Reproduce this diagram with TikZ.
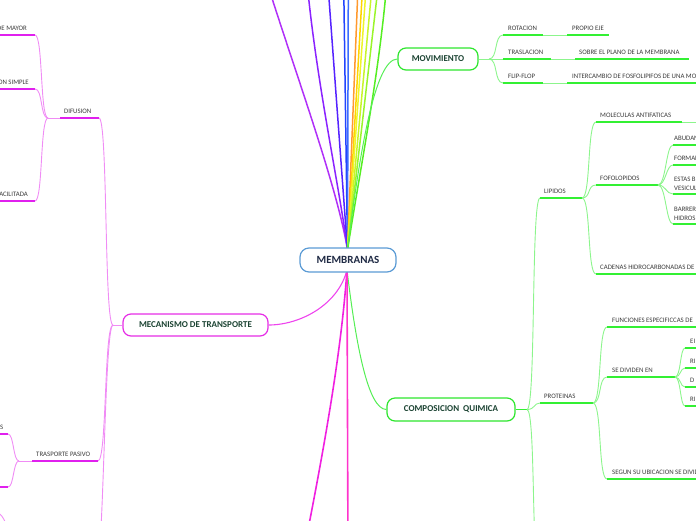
\documentclass[tikz,border=0pt]{standalone}
\usepackage{fontspec}
\setmainfont{Carlito}
\definecolor{gBorder}{HTML}{2EE62E}
\definecolor{gUnder}{HTML}{33F033}
\definecolor{gConn}{HTML}{8CF58C}
\definecolor{gMain}{HTML}{55EE55}
\definecolor{mBorder}{HTML}{E62EE6}
\definecolor{mUnder}{HTML}{E020EE}
\definecolor{mConn}{HTML}{F08CF5}
\definecolor{mMain}{HTML}{EE44EE}
\definecolor{mRayA}{HTML}{F020E0}
\definecolor{mRayB}{HTML}{FF33CC}
\definecolor{nodeText}{HTML}{1B4332}
\definecolor{memText}{HTML}{1F2A44}
\definecolor{memBorder}{HTML}{5B9BD5}
\definecolor{lblgray}{HTML}{3A3A3A}
\definecolor{rA}{HTML}{B030F8}
\definecolor{rB}{HTML}{8A22FF}
\definecolor{rC}{HTML}{5522FF}
\definecolor{rD}{HTML}{2244FF}
\definecolor{rE}{HTML}{3A6CFF}
\definecolor{rF}{HTML}{FF9A2E}
\definecolor{rG}{HTML}{FFD400}
\definecolor{rH}{HTML}{EEF52A}
\definecolor{rI}{HTML}{C8F52A}
\definecolor{rJ}{HTML}{9AF52A}
\definecolor{rK}{HTML}{55EE22}
\newcommand{\lblf}{\fontsize{6.8}{8}\selectfont}
\newcommand{\boxf}{\bfseries\fontsize{9}{10}\selectfont}
\begin{document}
\begin{tikzpicture}[x=1pt,y=-1pt,
  lbl/.style={inner sep=0pt, anchor=base west, text=lblgray, font=\lblf},
  lble/.style={lbl, anchor=base east},
  topicbox/.style={draw, fill=white, rounded corners=8pt, line width=1.2pt, inner sep=0pt, minimum height=22pt, text=nodeText, font=\boxf},
  centerbox/.style={draw=memBorder, fill=white, rounded corners=9pt, line width=1.2pt, inner sep=0pt, minimum width=96pt, minimum height=24pt, text=memText, font=\bfseries\fontsize{11}{12}\selectfont},
  gunder/.style={draw=gUnder, line width=1.8pt},
  gconn/.style={draw=gConn, line width=0.9pt},
  munder/.style={draw=mUnder, line width=1.8pt},
  mconn/.style={draw=mConn, line width=0.9pt},
  ray/.style={line width=1.5pt}
]
\path[use as bounding box] (0,0) rectangle (696,520);
\clip (0,0) rectangle (696,520);

% ---------- coordinates of the centre ----------
\coordinate (ctop) at (347.5,250);
\coordinate (cbot) at (347,270);

% ---------- rays to the top ----------
\coordinate (t1) at (270,-8);
\coordinate (t2) at (308,-8);
\coordinate (t3) at (328.5,-8);
\coordinate (t4) at (343.8,-8);
\coordinate (t5) at (348.3,-8);
\coordinate (t6) at (357.8,-8);
\coordinate (t7) at (362.3,-8);
\coordinate (t8) at (365.8,-8);
\coordinate (t9) at (371.5,-8);
\coordinate (t10) at (377.5,-8);
\coordinate (t11) at (386,-8);
\draw[ray, draw=rA] (ctop) .. controls (338,190) and (298,80) .. (t1);
\draw[ray, draw=rB] (ctop) .. controls (340,190) and (318,90) .. (t2);
\draw[ray, draw=rC] (ctop) -- (t3);
\draw[ray, draw=rD] (ctop) -- (t4);
\draw[ray, draw=rE] (ctop) -- (t5);
\draw[ray, draw=rF] (ctop) -- (t6);
\draw[ray, draw=rG] (ctop) -- (t7);
\draw[ray, draw=rH] (ctop) -- (t8);
\draw[ray, draw=rI] (ctop) -- (t9);
\draw[ray, draw=rJ] (ctop) -- (t10);
\draw[ray, draw=rK] (ctop) .. controls (360,170) and (378,80) .. (t11);

% ---------- main topic nodes ----------
\node[topicbox, draw=gBorder, minimum width=80pt] (mov) at (438,59) {MOVIMIENTO};
\node[topicbox, draw=gBorder, minimum width=128pt, minimum height=23pt] (comp) at (451,409.5) {COMPOSICION\ \ QUIMICA};
\node[topicbox, draw=mBorder, minimum width=145pt] (mec) at (195.5,325) {MECANISMO DE TRANSPORTE};

% ---------- centre to topics ----------
\draw[draw=gMain, line width=1pt] (ctop) .. controls (360,150) and (375,59) .. (mov.west);
\draw[draw=gMain, line width=1pt] (cbot) .. controls (356,345) and (368,409.5) .. (comp.west);
\draw[draw=mMain, line width=1.1pt] (cbot) .. controls (338,305) and (300,325) .. (mec.east);
\coordinate (b1) at (302,560);
\coordinate (b2) at (348,560);
\draw[ray, draw=mRayA, line width=1.6pt] (cbot) .. controls (342,340) and (330,420) .. (b1);
\draw[ray, draw=mRayB, line width=1.6pt] (cbot) -- (b2);

\node[centerbox] (mem) at (348,260) {MEMBRANAS};

% ================= MOVIMIENTO =================
\coordinate (movb) at (489,59);
\draw[gconn] (mov.east) -- (movb);
\coordinate (rot1) at (503,35);   \coordinate (rot2) at (543,35);
\coordinate (tra1) at (503,59);   \coordinate (tra2) at (551,59);
\coordinate (fli1) at (503,83);   \coordinate (fli2) at (543,83);
\coordinate (pro1) at (567,35);   \coordinate (pro2) at (609,35);
\coordinate (sob1) at (575,59);   \coordinate (sob2) at (689,59);
\coordinate (int1) at (567,83);   \coordinate (int2) at (705,83);
\draw[gconn] (movb) .. controls +(9,0) and +(-9,0) .. (rot1);
\draw[gconn] (movb) -- (tra1);
\draw[gconn] (movb) .. controls +(9,0) and +(-9,0) .. (fli1);
\draw[gunder] (rot1) -- (rot2);
\draw[gunder] (tra1) -- (tra2);
\draw[gunder] (fli1) -- (fli2);
\draw[gconn] (rot2) -- (pro1);
\draw[gconn] (tra2) -- (sob1);
\draw[gconn] (fli2) -- (int1);
\draw[gunder] (pro1) -- (pro2);
\draw[gunder] (sob1) -- (sob2);
\draw[gunder] (int1) -- (int2);
\node[lbl] (lrot) at (508,30) {ROTACION};
\node[lbl] (ltra) at (508,54) {TRASLACION};
\node[lbl] (lfli) at (508,78) {FLIP-FLOP};
\node[lbl] (lpro) at (572,30) {PROPIO EJE};
\node[lbl] (lsob) at (579,54) {SOBRE EL PLANO DE LA MEMBRANA};
\node[lbl] (lint) at (572,78) {INTERCAMBIO DE FOSFOLIPIFOS DE UNA MONOCAPA};

% ================= COMPOSICION QUIMICA =================
\coordinate (compb) at (527,409.5);
\draw[gunder] (comp.east) -- (compb);
\coordinate (lip1) at (540,198);  \coordinate (lip2) at (582,198);
\coordinate (prt1) at (540,403);  \coordinate (prt2) at (593,403);
\coordinate (compd) at (540,580);
\draw[gconn] (compb) .. controls +(9,0) and +(-9,0) .. (lip1);
\draw[gconn] (compb) .. controls +(8,0) and +(-6,0) .. (prt1);
\draw[gconn] (compb) .. controls +(9,0) and +(-9,0) .. (compd);
\draw[gunder] (lip1) -- (lip2);
\draw[gunder] (prt1) -- (prt2);
\node[lbl] (llip) at (544,193) {LIPIDOS};
\node[lbl] (lprt) at (544,398) {PROTEINAS};

% LIPIDOS children
\coordinate (mol1) at (596,122);  \coordinate (mol2) at (682,122); \coordinate (mol3) at (705,122);
\coordinate (fof1) at (596,185);  \coordinate (fof2) at (658,185);
\coordinate (cad1) at (596,274);  \coordinate (cad2) at (705,274);
\draw[gconn] (lip2) .. controls +(9,0) and +(-9,0) .. (mol1);
\draw[gconn] (lip2) .. controls +(9,0) and +(-9,0) .. (fof1);
\draw[gconn] (lip2) .. controls +(9,0) and +(-9,0) .. (cad1);
\draw[gunder] (mol1) -- (mol2);
\draw[gconn] (mol2) -- (mol3);
\draw[gunder] (fof1) -- (fof2);
\draw[gunder] (cad1) -- (cad2);
\node[lbl] (lmol) at (600,117) {MOLECULAS ANTIFATICAS};
\node[lbl] (lfof) at (600,180) {FOFOLOPIDOS};
\node[lbl] (lcad) at (600,269) {CADENAS HIDROCARBONADAS DE};

% FOFOLOPIDOS children
\coordinate (fa1) at (673,145); \coordinate (fa2) at (705,145);
\coordinate (fb1) at (673,165); \coordinate (fb2) at (705,165);
\coordinate (fc1) at (673,194); \coordinate (fc2) at (705,194);
\coordinate (fd1) at (673,224); \coordinate (fd2) at (705,224);
\foreach \c in {fa1,fb1,fc1,fd1} {\draw[gconn] (fof2) .. controls +(8,0) and +(-7,0) .. (\c);}
\draw[gunder] (fa1) -- (fa2);
\draw[gunder] (fb1) -- (fb2);
\draw[gunder] (fc1) -- (fc2);
\draw[gunder] (fd1) -- (fd2);
\node[lbl] (lfa) at (674,140) {ABUDAN};
\node[lbl] (lfb) at (674,160) {FORMAN};
\node[lbl] (lfc) at (674,181) {ESTAS B};
\node[lbl] (lfc2) at (674,190) {VESICUL};
\node[lbl] (lfd) at (674,211) {BARRER};
\node[lbl] (lfd2) at (674,220) {HIDROS};

% PROTEINAS children
\coordinate (fun1) at (607,327); \coordinate (fun2) at (705,327);
\coordinate (sed1) at (607,377); \coordinate (sed2) at (675,377);
\coordinate (seg1) at (607,479); \coordinate (seg2) at (705,479);
\draw[gconn] (prt2) .. controls +(9,0) and +(-9,0) .. (fun1);
\draw[gconn] (prt2) .. controls +(9,0) and +(-9,0) .. (sed1);
\draw[gconn] (prt2) .. controls +(9,0) and +(-9,0) .. (seg1);
\draw[gunder] (fun1) -- (fun2);
\draw[gunder] (sed1) -- (sed2);
\draw[gunder] (seg1) -- (seg2);
\node[lbl] (lfun) at (612,322) {FUNCIONES ESPECIFICCAS DE};
\node[lbl] (lsed) at (612,372) {SE DIVIDEN EN};
\node[lbl] (lseg) at (612,474) {SEGUN SU UBICACION SE DIVIDEN};

% SE DIVIDEN EN children
\coordinate (sa1) at (685,348); \coordinate (sa2) at (705,348);
\coordinate (sb1) at (685,368); \coordinate (sb2) at (705,368);
\coordinate (sc1) at (685,387); \coordinate (sc2) at (705,387);
\coordinate (sd1) at (685,406); \coordinate (sd2) at (705,406);
\foreach \c in {sa1,sb1,sc1,sd1} {\draw[gconn] (sed2) .. controls +(6,0) and +(-5,0) .. (\c);}
\draw[gunder] (sa1) -- (sa2);
\draw[gunder] (sb1) -- (sb2);
\draw[gunder] (sc1) -- (sc2);
\draw[gunder] (sd1) -- (sd2);
\node[lbl] (lsa) at (690,343) {EI};
\node[lbl] (lsb) at (690,363) {RI};
\node[lbl] (lsc) at (690,382) {D};
\node[lbl] (lsd) at (690,401) {RI};

% ================= MECANISMO DE TRANSPORTE =================
\coordinate (mecb) at (113,325);
\draw[mconn] (mec.west) -- (mecb);
\coordinate (dif1) at (60,118);  \coordinate (dif2) at (99,118);
\coordinate (tp1) at (32,461);   \coordinate (tp2) at (98,461);
\coordinate (mecd) at (95,580);
\draw[mconn] (mecb) .. controls +(-9,0) and +(9,0) .. (dif2);
\draw[mconn] (mecb) .. controls +(-9,0) and +(9,0) .. (tp2);
\draw[mconn] (mecb) .. controls +(-9,0) and +(9,0) .. (mecd);
\draw[munder] (dif1) -- (dif2);
\draw[munder] (tp1) -- (tp2);
\node[lbl] (ldif) at (64,113) {DIFUSION};
\node[lbl] (ltp) at (36,456) {TRASPORTE PASIVO};

% DIFUSION children
\coordinate (difb) at (48,118);
\draw[mconn] (dif1) -- (difb);
\coordinate (da1) at (-10,35);  \coordinate (da2) at (35,35);
\coordinate (db1) at (-10,89);  \coordinate (db2) at (35,89);
\coordinate (dc1) at (-10,201); \coordinate (dc2) at (35,201);
\draw[mconn] (difb) .. controls +(-8,0) and +(8,0) .. (da2);
\draw[mconn] (difb) .. controls +(-8,0) and +(8,0) .. (db2);
\draw[mconn] (difb) .. controls +(-8,0) and +(8,0) .. (dc2);
\draw[munder] (da1) -- (da2);
\draw[munder] (db1) -- (db2);
\draw[munder] (dc1) -- (dc2);
\node[lble] (lda) at (27,30) {DE MAYOR};
\node[lble] (ldb) at (29,84) {DIFUSION SIMPLE};
\node[lble] (ldc) at (28,196) {DIFUSION FACILITADA};

% TRASPORTE PASIVO children
\coordinate (tpb) at (19,461);
\draw[mconn] (tp1) -- (tpb);
\coordinate (ta1) at (-10,434); \coordinate (ta2) at (8,434);
\coordinate (tb1) at (-10,487); \coordinate (tb2) at (8,487);
\draw[mconn] (tpb) .. controls +(-6,0) and +(6,0) .. (ta2);
\draw[mconn] (tpb) .. controls +(-6,0) and +(6,0) .. (tb2);
\draw[munder] (ta1) -- (ta2);
\draw[munder] (tb1) -- (tb2);
\node[lble] (lta) at (3.5,429) {S};

% lower branch glimpse
\coordinate (lg1) at (-4,512);
\coordinate (lg2) at (14,550);
\draw[mconn] (lg1) .. controls +(8,0) and +(-2,-12) .. (lg2);
\end{tikzpicture}
\end{document}
